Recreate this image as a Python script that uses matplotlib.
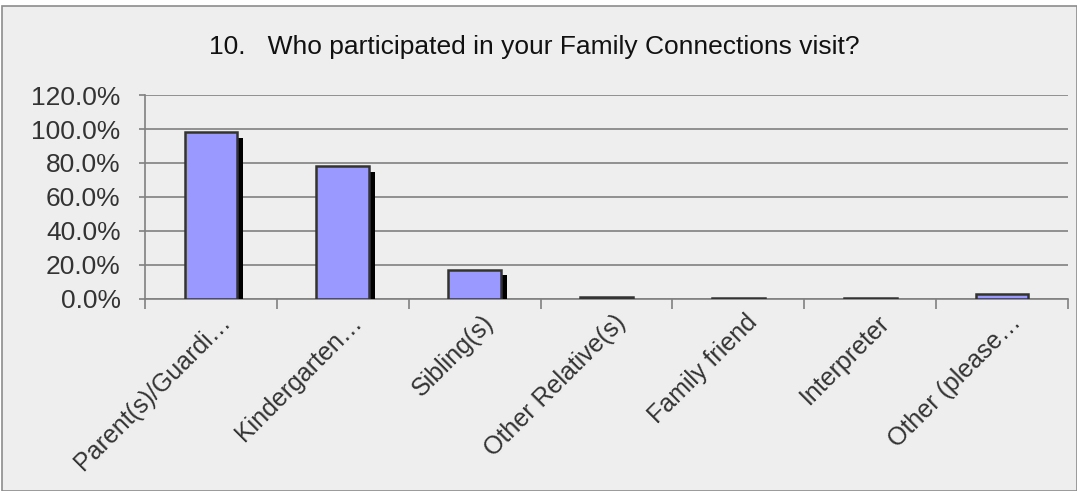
import matplotlib
matplotlib.use("Agg")
import matplotlib.pyplot as plt
import matplotlib.patheffects as pe
import matplotlib.transforms as mtrans
from matplotlib.patches import Rectangle
from matplotlib.ticker import FuncFormatter, MultipleLocator, FixedLocator
import numpy as np

plt.rcParams['font.family'] = ['Liberation Sans', 'DejaVu Sans']

# data
categories = ["Parent(s)/Guardi\u2026", "Kindergarten\u2026", "Sibling(s)",
              "Other Relative(s)", "Family friend", "Interpreter", "Other (please\u2026"]
percent = [98.0, 78.2, 17.2, 1.0, 0.3, 0.3, 3.0]
title = "10.   Who participated in your Family Connections visit?"

fig = plt.figure(figsize=(10.77, 4.91), dpi=100)
fig.patch.set_facecolor("white")
fig.add_artist(Rectangle((2 / 1077, 0), 1 - 2 / 1077, 485 / 491,
                         transform=fig.transFigure, facecolor="#eeeeee",
                         edgecolor="#8c8c8c", linewidth=1.2, zorder=-5))

ax = fig.add_axes([145 / 1077, 192 / 491, 923 / 1077, 204 / 491])
ax.set_facecolor("none")

x = np.arange(len(categories))
bars = ax.bar(x, percent, width=0.4, color="#9999ff", edgecolor="#333333",
              linewidth=1.8, zorder=3)
for b in bars:
    b.set_path_effects([pe.SimplePatchShadow(offset=(4, -4), shadow_rgbFace="black",
                                             alpha=1.0), pe.Normal()])

ax.set_xlim(-0.5, len(categories) - 0.5)
ax.set_ylim(0, 120)
ax.yaxis.set_major_locator(MultipleLocator(20))
ax.yaxis.set_major_formatter(FuncFormatter(lambda v, p: f"{v:.1f}%"))
ax.grid(axis="y", color="#808080", linewidth=1.2, zorder=1)

ax.xaxis.set_major_locator(FixedLocator(x))
ax.set_xticklabels(categories, rotation=45, ha="right", rotation_mode="anchor")
ax.xaxis.set_minor_locator(FixedLocator(np.arange(len(categories) + 1) - 0.5))
ax.tick_params(axis="x", which="major", length=0, pad=8, labelsize=18, labelcolor="#333333")
ax.tick_params(axis="x", which="minor", length=7, width=1.2, color="#808080", direction="out")
ax.tick_params(axis="y", length=4.5, width=1.2, color="#808080", pad=13, labelsize=19,
               labelcolor="#333333")
shift = mtrans.ScaledTranslation(5 / 72, 0, fig.dpi_scale_trans)
for lab in ax.get_xticklabels():
    lab.set_transform(lab.get_transform() + shift)

for s in ["top", "right"]:
    ax.spines[s].set_visible(False)
for s in ["left", "bottom"]:
    ax.spines[s].set_color("#808080")
    ax.spines[s].set_linewidth(1.2)

fig.text(534 / 1077, 1 - 47 / 491, title, ha="center", va="center",
         fontsize=19, color="#111111")

fig.savefig("out.png", dpi=100)
